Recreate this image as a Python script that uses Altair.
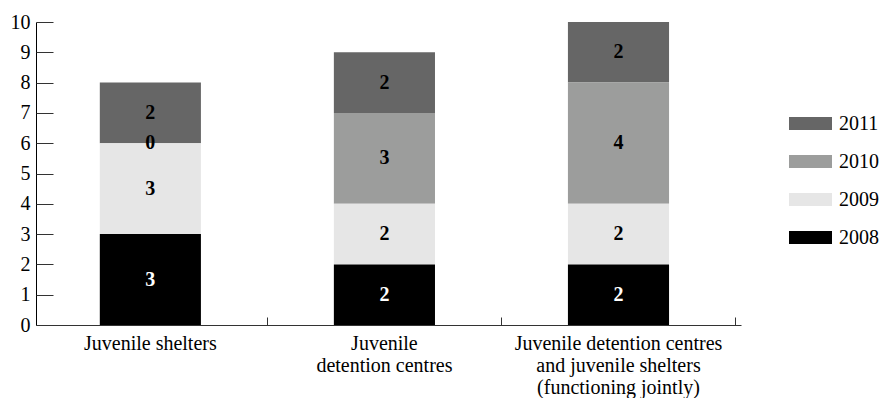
import altair as alt
import pandas as pd

categories = [
    "Juvenile shelters",
    "Juvenile\ndetention centres",
    "Juvenile detention centres\nand juvenile shelters\n(functioning jointly)",
]
years = ["2011", "2010", "2009", "2008"]
values_2008 = [3, 2, 2]
values_2009 = [3, 2, 2]
values_2010 = [0, 3, 4]
values_2011 = [2, 2, 2]
y_ticks = [0, 1, 2, 3, 4, 5, 6, 7, 8, 9, 10]
colors = ["#666666", "#9c9d9c", "#e6e6e6", "#000000"]

rows = []
for yr, vals in zip(years, [values_2011, values_2010, values_2009, values_2008]):
    for c, v in zip(categories, vals):
        rows.append({"category": c, "year": yr, "value": v})
df = pd.DataFrame(rows)

FONT = "Liberation Serif, Times New Roman, serif"
FS = 20

base = alt.Chart(df).transform_stack(
    stack="value", groupby=["category"], as_=["y0", "y1"],
    sort=[alt.SortField("year", order="ascending")],
).transform_calculate(mid="(datum.y0 + datum.y1) / 2")

xscale = alt.Scale(domain=categories, paddingInner=0.568, paddingOuter=0.29, align=0.47)
yscale = alt.Scale(domain=[0, 10], nice=False)

bars = base.mark_bar().encode(
    x=alt.X("category:N", scale=xscale, sort=categories, title=None,
            axis=alt.Axis(labelAngle=0, ticks=False, domainColor="#333333",
                          labelExpr="split(datum.label, '\\n')", labelLimit=0,
                          labelFont=FONT, labelFontSize=FS, labelColor="#000000",
                          labelPadding=8, labelLineHeight=22, labelBaseline="top")),
    y=alt.Y("y0:Q", scale=yscale, title=None,
            axis=alt.Axis(values=y_ticks, ticks=False, grid=False, domainColor="#000000",
                          labelFont=FONT, labelFontSize=FS, labelColor="#000000",
                          labelPadding=6)),
    y2="y1:Q",
    color=alt.Color("year:N",
                    scale=alt.Scale(domain=years, range=colors),
                    legend=alt.Legend(title=None, orient="none", legendX=753, legendY=80,
                                      symbolType="M-1,-0.3L1,-0.3L1,0.3L-1,0.3Z",
                                      symbolSize=1849, symbolStrokeWidth=0,
                                      labelFont=FONT, labelFontSize=FS, labelColor="#000000",
                                      labelOffset=7, rowPadding=6)),
)

labels = base.mark_text(font=FONT, fontSize=FS, fontWeight="bold", baseline="middle").encode(
    x=alt.X("category:N", scale=xscale, sort=categories, title=None,
            axis=alt.Axis(orient="bottom", offset=-8, labels=False, domain=False,
                          ticks=True, tickSize=8, tickOffset=117, tickColor="#333333")),
    y=alt.Y("mid:Q", scale=yscale, title=None,
            axis=alt.Axis(orient="left", offset=-17, values=y_ticks, labels=False,
                          domain=False, grid=False, ticks=True, tickSize=17,
                          tickColor="#333333")),
    text=alt.Text("value:Q"),
    color=alt.condition(alt.datum.year == "2008", alt.value("#ffffff"), alt.value("#000000")),
)

chart = alt.layer(bars, labels).resolve_axis(x="independent", y="independent").properties(
    width=705, height=303,
    autosize=alt.AutoSizeParams(type="none"),
    padding={"left": 36, "top": 22, "right": 141, "bottom": 73},
).configure_view(stroke=None)

chart.save("out.html", embed_options={"renderer": "svg", "actions": False})
